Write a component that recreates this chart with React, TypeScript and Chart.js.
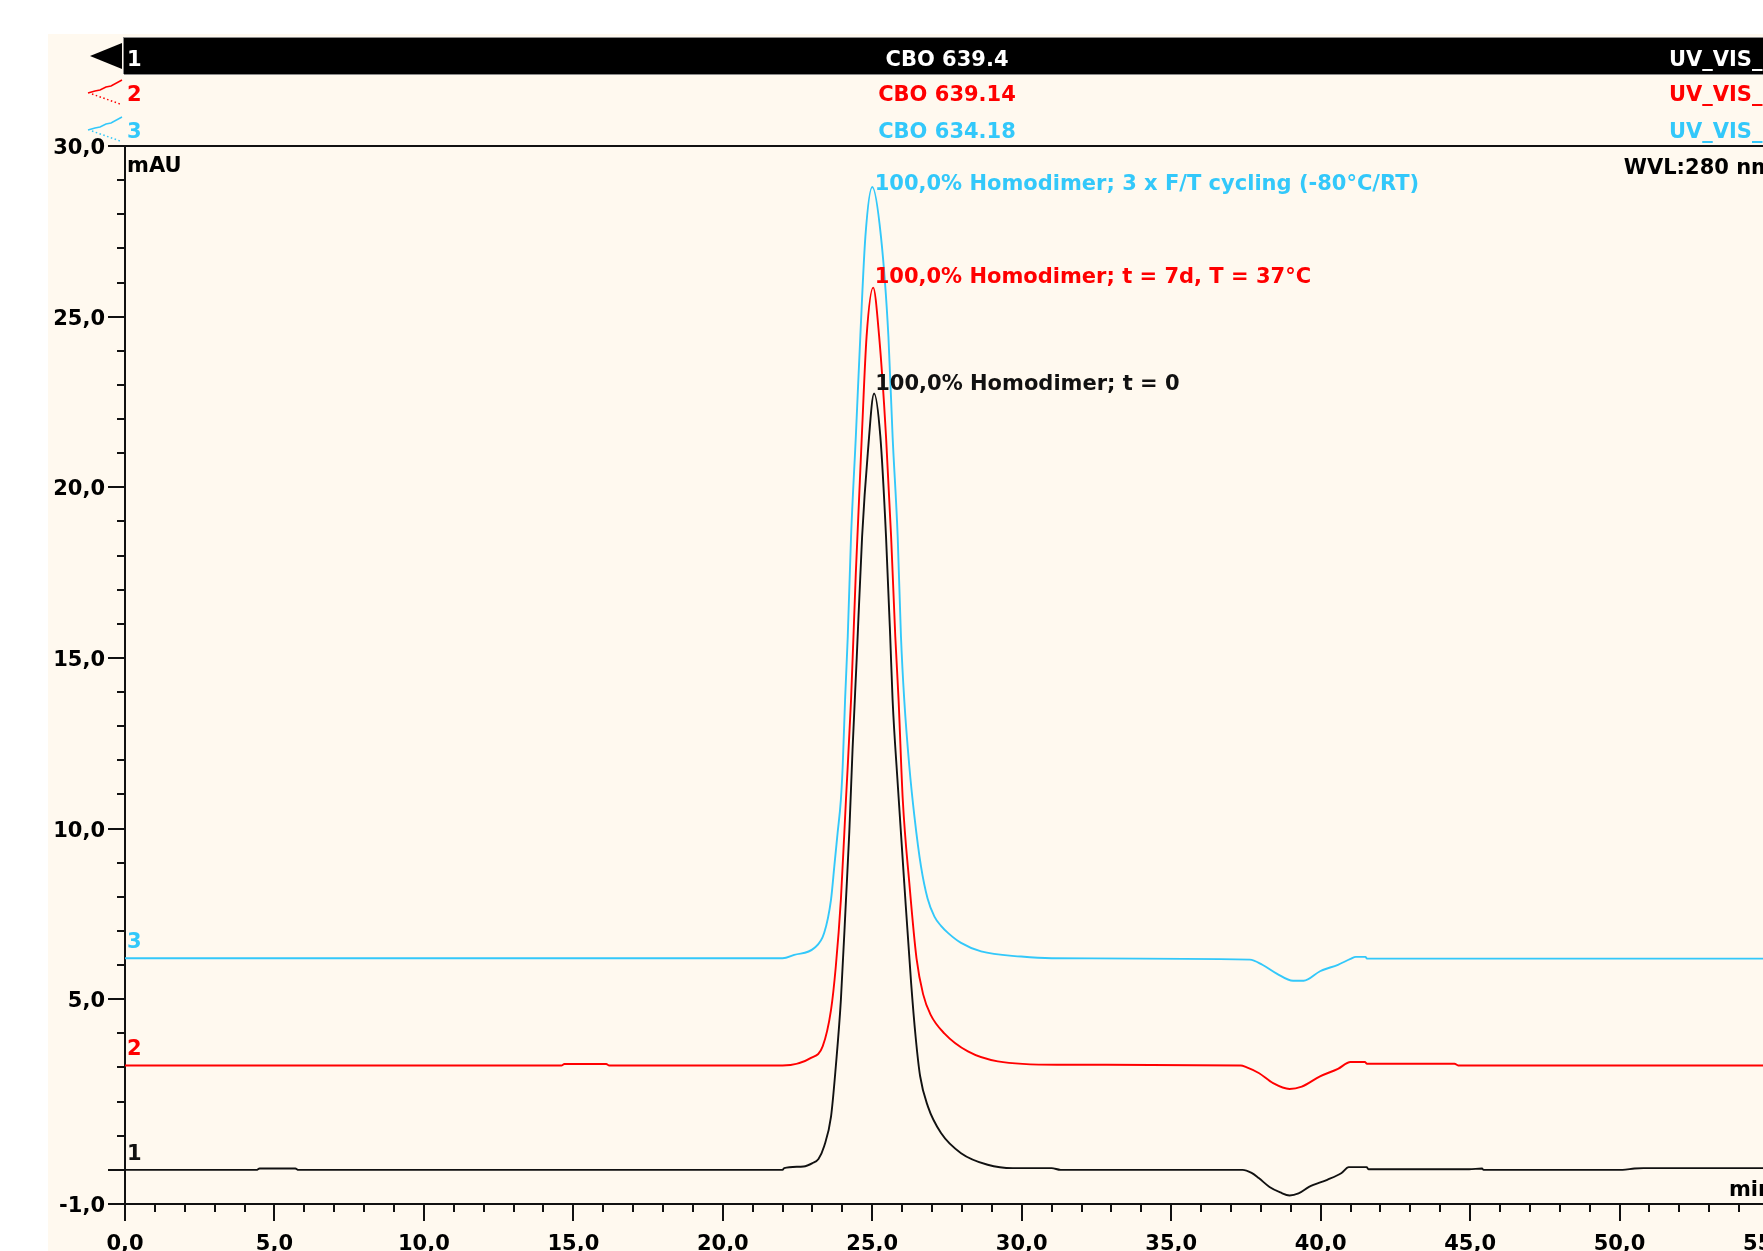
import React, { useEffect, useRef } from 'react';
import { Chart, registerables } from 'chart.js';

Chart.register(...registerables);

// ---- Data (retention time in min, signal in mAU) ----
const trace1Time = [0, 4.4, 4.5, 5.7, 5.8, 22.0, 22.05, 22.7, 23.0, 23.2, 23.39, 23.62, 23.78, 23.95, 24.12, 24.23, 24.34, 24.48, 24.66, 24.85, 25.06, 25.27, 25.46, 25.6, 25.68, 25.85, 26.07, 26.3, 26.45, 26.6, 26.86, 27.3, 27.97, 28.86, 29.7, 31.0, 31.3, 37.39, 37.69, 37.93, 38.29, 38.65, 38.96, 39.26, 39.61, 40.22, 40.7, 40.94, 41.54, 41.6, 44.97, 45.4, 45.45, 50.1, 50.5, 50.8, 55];
const trace1Signal = [0, 0, 0.04, 0.04, 0, 0, 0.05, 0.1, 0.2, 0.32, 0.69, 1.56, 3.03, 4.98, 7.91, 9.87, 12.31, 15.0, 18.56, 21.0, 22.75, 21.49, 18.56, 15.63, 13.77, 11.33, 8.4, 5.47, 3.9, 2.75, 1.86, 1.08, 0.49, 0.15, 0.05, 0.05, 0, 0, -0.09, -0.24, -0.5, -0.66, -0.75, -0.69, -0.5, -0.29, -0.09, 0.08, 0.08, 0.02, 0.02, 0.04, 0, 0, 0.04, 0.05, 0.05];

const trace2Time = [0, 14.6, 14.7, 16.1, 16.2, 22.0, 22.95, 23.34, 23.62, 23.78, 23.95, 24.12, 24.29, 24.45, 24.65, 24.81, 25.03, 25.23, 25.46, 25.63, 25.77, 25.88, 26.02, 26.24, 26.48, 26.7, 26.95, 27.41, 28.2, 29.2, 31.2, 37.33, 37.51, 37.93, 38.41, 38.96, 39.37, 39.98, 40.58, 41.0, 41.48, 41.55, 44.48, 44.6, 55];
const trace2Signal = [3.06, 3.06, 3.1, 3.1, 3.06, 3.06, 3.28, 3.62, 4.69, 5.96, 7.92, 10.85, 13.77, 17.5, 21.49, 24.42, 25.85, 24.42, 21.49, 18.56, 15.63, 13.77, 10.85, 8.4, 6.2, 5.15, 4.55, 4.0, 3.47, 3.18, 3.08, 3.06, 3.01, 2.84, 2.54, 2.37, 2.44, 2.74, 2.96, 3.16, 3.16, 3.11, 3.11, 3.06, 3.06];

const trace3Time = [0, 22.0, 22.39, 23.06, 23.39, 23.62, 23.73, 23.84, 23.95, 24.01, 24.09, 24.18, 24.29, 24.45, 24.6, 24.77, 25.0, 25.29, 25.54, 25.68, 25.85, 25.96, 26.07, 26.24, 26.41, 26.63, 26.85, 27.08, 27.3, 27.55, 27.97, 28.64, 29.98, 31.0, 37.63, 38.05, 38.53, 39.08, 39.43, 39.98, 40.58, 41.0, 41.18, 41.5, 41.55, 55];
const trace3Signal = [6.2, 6.2, 6.3, 6.5, 6.94, 7.92, 8.89, 9.87, 10.85, 11.82, 13.77, 15.63, 18.56, 21.49, 24.42, 27.35, 28.8, 27.35, 24.42, 21.49, 18.56, 15.63, 13.77, 11.82, 10.36, 8.89, 7.95, 7.42, 7.15, 6.93, 6.65, 6.4, 6.25, 6.2, 6.16, 6.01, 5.75, 5.54, 5.54, 5.82, 6.01, 6.18, 6.24, 6.24, 6.19, 6.19];

const traceNumbers = ['1', '2', '3'];
const sampleNames = ['CBO 639.4', 'CBO 639.14', 'CBO 634.18'];
const channelNames = ['UV_VIS_1', 'UV_VIS_1', 'UV_VIS_1'];
const peakLabels = [
  '100,0% Homodimer; t = 0',
  '100,0% Homodimer; t = 7d, T = 37°C',
  '100,0% Homodimer; 3 x F/T cycling (-80°C/RT)',
];
const peakLabelTime = [25.1, 25.08, 25.08];
const peakLabelSignal = [22.85, 26.0, 28.7];

const xTickValues = [0, 5, 10, 15, 20, 25, 30, 35, 40, 45, 50, 55];
const xTickLabels = ['0,0', '5,0', '10,0', '15,0', '20,0', '25,0', '30,0', '35,0', '40,0', '45,0', '50,0', '55,0'];
const yTickValues = [-1, 5, 10, 15, 20, 25, 30];
const yTickLabels = ['-1,0', '5,0', '10,0', '15,0', '20,0', '25,0', '30,0'];

const X_MIN = 0;
const X_MAX = 55;
const Y_MIN = -1;
const Y_MAX = 30;

const COLORS = ['#111111', '#ff0000', '#33c8fa'];
const CREAM = '#fff9ef';
const FONT_FAMILY = '"DejaVu Sans", Verdana, sans-serif';
const font = (s: number) => `bold ${s}px ${FONT_FAMILY}`;

const decorPlugin = {
  id: 'chromDecor',
  beforeDraw(chart: any) {
    const { ctx, width, height } = chart;
    ctx.save();
    ctx.fillStyle = '#ffffff';
    ctx.fillRect(0, 0, width, height);
    ctx.fillStyle = CREAM;
    ctx.fillRect(48, 34, width - 48, height - 34);
    ctx.restore();
  },
  beforeDatasetsDraw(chart: any) {
    const { ctx, chartArea, width } = chart;
    const xs = chart.scales.x;
    const ys = chart.scales.y;
    const L = chartArea.left;
    const B = chartArea.bottom;
    ctx.save();
    ctx.strokeStyle = '#111';
    ctx.lineWidth = 2;
    ctx.beginPath();
    ctx.moveTo(L, chartArea.top);
    ctx.lineTo(L, B + 17);
    ctx.moveTo(L - 17, B);
    ctx.lineTo(width, B);
    ctx.moveTo(L - 17, chartArea.top);
    ctx.lineTo(width, chartArea.top);
    ctx.stroke();
    ctx.beginPath();
    for (let v = X_MIN; v <= X_MAX; v += 1) {
      const px = Math.round(xs.getPixelForValue(v));
      const major = v % 5 === 0;
      ctx.moveTo(px, B);
      ctx.lineTo(px, B + (major ? 17 : 8));
    }
    for (let v = Y_MIN; v <= Y_MAX; v += 1) {
      const py = Math.round(ys.getPixelForValue(v));
      const major = v % 5 === 0 || v === Y_MIN;
      ctx.moveTo(L, py);
      ctx.lineTo(L - (major ? 17 : 8), py);
    }
    ctx.stroke();
    ctx.fillStyle = '#000';
    ctx.font = font(21);
    ctx.textBaseline = 'alphabetic';
    ctx.textAlign = 'center';
    xTickValues.forEach((v, i) => {
      ctx.fillText(xTickLabels[i], xs.getPixelForValue(v), 1250);
    });
    ctx.textAlign = 'right';
    yTickValues.forEach((v, i) => {
      ctx.fillText(yTickLabels[i], L - 20, ys.getPixelForValue(v) + 8);
    });
    ctx.restore();
  },
  afterDraw(chart: any) {
    const { ctx, chartArea, width } = chart;
    const xs = chart.scales.x;
    const ys = chart.scales.y;
    const L = chartArea.left;
    const R = chartArea.right;
    const cx = (L + R) / 2;
    ctx.save();
    const rowTop = [37, 74, 111];
    const rowMid = [58, 93, 130];
    ctx.fillStyle = '#000';
    ctx.fillRect(L - 1, rowTop[0], width - L + 1, 37);
    ctx.strokeStyle = '#8a8a8a';
    ctx.lineWidth = 1;
    ctx.beginPath();
    ctx.moveTo(L - 1, rowTop[0] + 0.5);
    ctx.lineTo(width, rowTop[0] + 0.5);
    ctx.moveTo(L - 1, rowTop[1] + 0.5);
    ctx.lineTo(width, rowTop[1] + 0.5);
    ctx.moveTo(L - 1.5, rowTop[0]);
    ctx.lineTo(L - 1.5, rowTop[1]);
    ctx.stroke();
    ctx.fillStyle = '#000';
    ctx.beginPath();
    ctx.moveTo(90, 56);
    ctx.lineTo(122, 43);
    ctx.lineTo(122, 69);
    ctx.closePath();
    ctx.fill();
    [1, 2].forEach((k) => {
      const m = rowMid[k];
      ctx.strokeStyle = COLORS[k];
      ctx.lineWidth = 1.5;
      ctx.setLineDash([]);
      ctx.beginPath();
      ctx.moveTo(88, m);
      ctx.lineTo(95, m - 2);
      ctx.lineTo(100, m - 3);
      ctx.lineTo(106, m - 6);
      ctx.lineTo(111, m - 7);
      ctx.lineTo(122, m - 13);
      ctx.stroke();
      ctx.setLineDash([1.5, 2.5]);
      ctx.beginPath();
      ctx.moveTo(92, m + 1);
      ctx.lineTo(120, m + 11);
      ctx.stroke();
    });
    ctx.setLineDash([]);
    ctx.font = font(21);
    ctx.textBaseline = 'alphabetic';
    [0, 1, 2].forEach((k) => {
      const col = k === 0 ? '#ffffff' : COLORS[k];
      const base = rowMid[k] + 8;
      ctx.fillStyle = col;
      ctx.textAlign = 'left';
      ctx.fillText(traceNumbers[k], L + 2, base);
      ctx.textAlign = 'center';
      ctx.fillText(sampleNames[k], cx, base);
      ctx.textAlign = 'right';
      ctx.fillText(channelNames[k], R + 8, base);
    });
    ctx.fillStyle = '#000';
    ctx.textAlign = 'left';
    ctx.fillText('mAU', L + 2, 172);
    ctx.textAlign = 'right';
    ctx.fillText('WVL:280 nm', R + 4, 174);
    ctx.fillText('min', R + 4, 1196);
    const firsts = [trace1Signal[0], trace2Signal[0], trace3Signal[0]];
    ctx.textAlign = 'left';
    firsts.forEach((v, k) => {
      ctx.fillStyle = COLORS[k];
      ctx.fillText(traceNumbers[k], L + 2, ys.getPixelForValue(v) - 10);
    });
    peakLabels.forEach((t, k) => {
      ctx.fillStyle = COLORS[k];
      ctx.fillText(t, xs.getPixelForValue(peakLabelTime[k]), ys.getPixelForValue(peakLabelSignal[k]));
    });
    ctx.restore();
  },
};

function toPoints(t: number[], v: number[]) {
  return t.map((x, i) => ({ x, y: v[i] }));
}

function ds(k: number, t: number[], v: number[]) {
  return {
    label: sampleNames[k],
    data: toPoints(t, v),
    borderColor: COLORS[k],
    borderWidth: 1.9,
    pointRadius: 0,
    cubicInterpolationMode: 'monotone',
    fill: false,
  };
}

export default function App() {
  const ref = useRef<HTMLCanvasElement | null>(null);
  useEffect(() => {
    if (!ref.current) return;
    const chart = new Chart(ref.current, {
      type: 'line',
      data: {
        datasets: [
          ds(0, trace1Time, trace1Signal),
          ds(1, trace2Time, trace2Signal),
          ds(2, trace3Time, trace3Signal),
        ],
      },
      options: {
        animation: false,
        responsive: false,
        devicePixelRatio: 1,
        events: [],
        layout: { padding: { left: 125, top: 146, right: 31, bottom: 47 } },
        scales: {
          x: { type: 'linear', min: X_MIN, max: X_MAX, display: false },
          y: { type: 'linear', min: Y_MIN, max: Y_MAX, display: false },
        },
        plugins: { legend: { display: false }, tooltip: { enabled: false } },
      },
      plugins: [decorPlugin],
    } as any);
    return () => chart.destroy();
  }, []);
  return (
    <div style={{ position: 'fixed', left: 0, top: 0, width: '1763px', height: '1251px', overflow: 'hidden', background: '#fff' }}>
      <canvas ref={ref} width={1800} height={1251} style={{ display: 'block', width: '1800px', height: '1251px' }} />
    </div>
  );
}
